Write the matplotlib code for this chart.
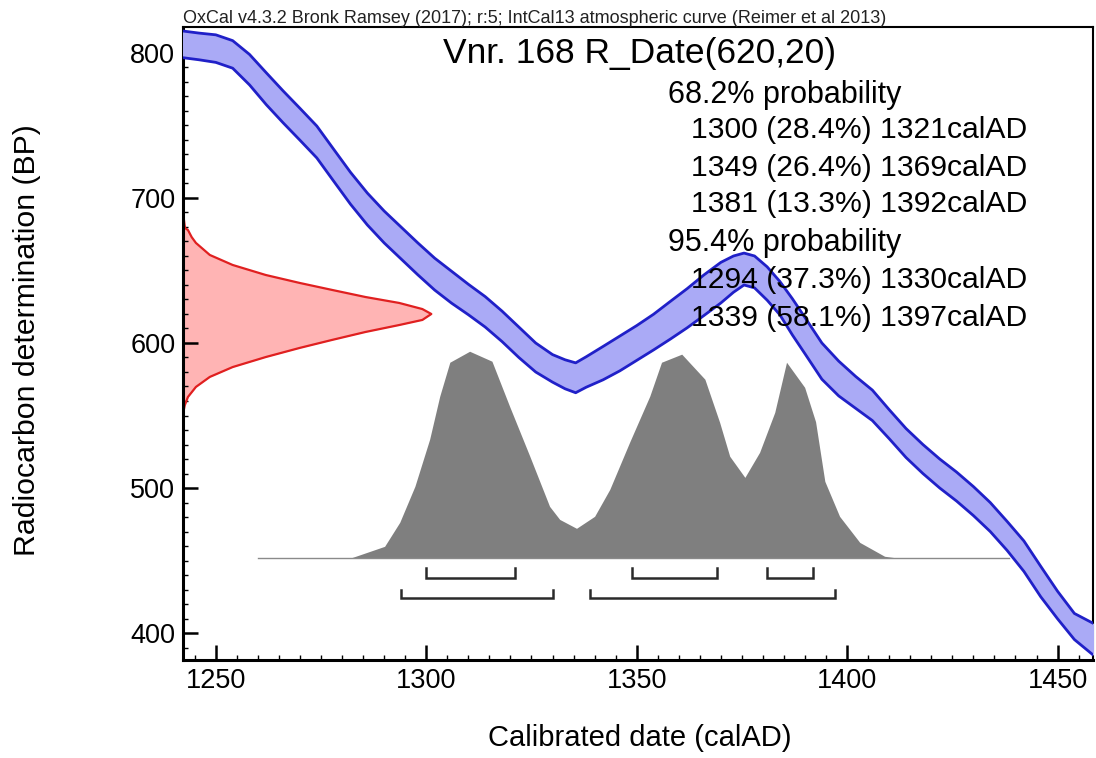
import numpy as np
import matplotlib
matplotlib.use('Agg')
import matplotlib.pyplot as plt
from matplotlib.ticker import MultipleLocator

plt.rcParams['font.family'] = ['Liberation Sans', 'DejaVu Sans']

# ---------------- data ----------------
# Calibration curve (IntCal13): calendar year AD, radiocarbon age BP and 1-sigma
curve_years = np.array([1242, 1246, 1250, 1254, 1258, 1262, 1266, 1270, 1274, 1278, 1282,
                        1286, 1290, 1294, 1298, 1302, 1306, 1310, 1314, 1318, 1322, 1326,
                        1330, 1333, 1335.5, 1338, 1342, 1346, 1350, 1354, 1358, 1362,
                        1366, 1370, 1373, 1375.5, 1378, 1381, 1384, 1387, 1390, 1394,
                        1398, 1402, 1406, 1410, 1414, 1418, 1422, 1426, 1430, 1434,
                        1438, 1442, 1446, 1450, 1454, 1458.6])
curve_bp = np.array([806, 804.5, 803, 799, 788.5, 775.3, 762.8, 750.8, 738.6, 722.6, 706.7,
                     692.4, 680, 669, 658, 647.5, 638.5, 630, 621.5, 611.5, 600.5, 590,
                     582.5, 578.4, 576, 580, 586.1, 592.8, 600, 607.5, 615.7, 624,
                     633, 641.6, 647.5, 651, 649, 641, 631, 618, 605, 587.5,
                     575.5, 566, 557, 544, 531, 520, 510, 501, 491, 480,
                     467, 453, 435.5, 419.3, 404.5, 395.5])
curve_sigma = np.array([9.2, 9.2, 9.5, 9.5, 10.5, 11, 11, 11, 11, 11, 11,
                        11, 11, 11, 11, 11, 11, 10.5, 10.5, 10.5, 10.5, 10,
                        9.5, 10, 10.3, 10.5, 11.5, 12, 12, 12.3, 13, 13.5,
                        14, 14, 12.5, 11, 11, 11.5, 11.5, 12.5, 12.5, 12.5,
                        12, 11, 10.5, 10, 10, 10, 10, 10, 10, 10,
                        10, 10.5, 10.5, 9.5, 9.0, 11])

# Radiocarbon date likelihood R_Date(620,20): BP and relative height
r14_bp = np.array([690.0, 679.3, 677.9, 673.0, 669.0, 660.7, 653.8, 646.9, 641.4, 636.6,
                   631.7, 627.6, 623.4, 620.0, 615.9, 612.4, 607.6, 602.1, 596.6, 590.3,
                   583.4, 576.6, 569.7, 562.8, 557.0, 551.0])
r14_rel = np.array([0.0, 0.008, 0.02, 0.035, 0.052, 0.108, 0.20, 0.333, 0.47, 0.60,
                    0.735, 0.871, 0.964, 1.0, 0.964, 0.871, 0.735, 0.60, 0.47, 0.333,
                    0.20, 0.108, 0.052, 0.02, 0.007, 0.0])

# Calibrated probability distribution: year AD and relative probability
cal_years = np.array([1260.0, 1281.8, 1290.1, 1293.7, 1297.3, 1300.8, 1303.2, 1305.6, 1310.3,
                      1315.6, 1319.8, 1324.6, 1329.3, 1331.7, 1335.7, 1340.0, 1343.6,
                      1348.3, 1353.1, 1355.9, 1360.7, 1366.2, 1369.7, 1372.1, 1375.7,
                      1379.2, 1382.8, 1385.6, 1389.9, 1392.5, 1394.7, 1398.2, 1403.0,
                      1408.9, 1412.5, 1438.5])
cal_prob = np.array([0.0, 0.0, 0.058, 0.174, 0.348, 0.575, 0.783, 0.947, 1.0,
                     0.952, 0.734, 0.493, 0.251, 0.188, 0.145, 0.203, 0.333,
                     0.560, 0.783, 0.947, 0.986, 0.865, 0.657, 0.493, 0.391,
                     0.512, 0.705, 0.947, 0.826, 0.66, 0.372, 0.203, 0.077,
                     0.01, 0.0, 0.0])

# Ranges
ranges_68 = [(1300, 1321), (1349, 1369), (1381, 1392)]
ranges_95 = [(1294, 1330), (1339, 1397)]

title = "Vnr. 168 R_Date(620,20)"
header = "OxCal v4.3.2 Bronk Ramsey (2017); r:5; IntCal13 atmospheric curve (Reimer et al 2013)"
lines_68 = ["1300 (28.4%) 1321calAD", "1349 (26.4%) 1369calAD", "1381 (13.3%) 1392calAD"]
lines_95 = ["1294 (37.3%) 1330calAD", "1339 (58.1%) 1397calAD"]

# ---------------- figure ----------------
W, H = 1096, 758
fig = plt.figure(figsize=(W / 100, H / 100), dpi=100)
ax_l, ax_r, ax_t, ax_b = 183, 1092.5, 27, 660
ax = fig.add_axes([ax_l / W, 1 - ax_b / H, (ax_r - ax_l) / W, (ax_b - ax_t) / H])
xmin, xmax = 1242.2, 1458.3
ymin, ymax = 381.4, 817.9
ax.set_xlim(xmin, xmax)
ax.set_ylim(ymin, ymax)

# likelihood (red) on the left
r14_width = 59.0
ax.fill_betweenx(r14_bp, xmin, xmin + r14_rel * r14_width, color='#ffb4b4', lw=0, zorder=1)
ax.plot(xmin + r14_rel * r14_width, r14_bp, color='#e02020', lw=1.6, zorder=2)

# calibrated distribution (grey)
base_bp = 451.5
peak_h = 142.8
ax.fill_between(cal_years, base_bp, base_bp + cal_prob * peak_h, color='#7f7f7f', lw=0, zorder=1)
ax.plot(cal_years, base_bp + cal_prob * 0, color='#8a8a8a', lw=1.0, zorder=1)

# calibration band
upper = curve_bp + curve_sigma
lower = curve_bp - curve_sigma
ax.fill_between(curve_years, lower, upper, color='#aaaaf6', lw=0, zorder=3)
ax.plot(curve_years, upper, color='#2020c8', lw=2.0, zorder=4, solid_joinstyle='round')
ax.plot(curve_years, lower, color='#2020c8', lw=2.0, zorder=4, solid_joinstyle='round')

# range brackets
def bracket(s, e, y, tick):
    ax.plot([s, s, e, e], [y + tick, y, y, y + tick], color='#2a2a2a', lw=1.8,
            solid_joinstyle='miter', zorder=5)

for s, e in ranges_68:
    bracket(s, e, 438.0, 6.8)
for s, e in ranges_95:
    bracket(s, e, 424.0, 6.0)

# axes styling
ax.xaxis.set_major_locator(MultipleLocator(50))
ax.xaxis.set_minor_locator(MultipleLocator(5))
ax.yaxis.set_major_locator(MultipleLocator(100))
ax.yaxis.set_minor_locator(MultipleLocator(10))
ax.tick_params(which='both', direction='in', top=False, right=False, colors='black')
ax.tick_params(which='major', length=11, width=1.8, labelsize=19.5, pad=5.5)
ax.tick_params(which='minor', length=3.8, width=1.0)
for side in ['left', 'bottom']:
    ax.spines[side].set_linewidth(2.2)
for side in ['top', 'right']:
    ax.spines[side].set_linewidth(1.5)

def px(x, y):
    return x / W, 1 - y / H

# texts
fig.text(*px(183, 23), header, fontsize=13.0, ha='left', va='baseline', color='#222222')
fig.text(*px(640, 63), title, fontsize=25.5, ha='center', va='baseline', zorder=10)
fig.text(*px(668, 102.5), "68.2% probability", fontsize=22, ha='left', va='baseline', zorder=10)
for i, t in enumerate(lines_68):
    fig.text(*px(1027, 138.5 + 37 * i), t, fontsize=21.7, ha='right', va='baseline', zorder=10)
fig.text(*px(668, 251.5), "95.4% probability", fontsize=22, ha='left', va='baseline', zorder=10)
for i, t in enumerate(lines_95):
    fig.text(*px(1027, 288.5 + 37.5 * i), t, fontsize=21.7, ha='right', va='baseline', zorder=10)

fig.text(*px(27, 340), "Radiocarbon determination (BP)", fontsize=21.8, rotation=90,
         ha='center', va='center')
fig.text(*px(640, 738), "Calibrated date (calAD)", fontsize=21, ha='center', va='center')

fig.savefig('out.png', dpi=100)
